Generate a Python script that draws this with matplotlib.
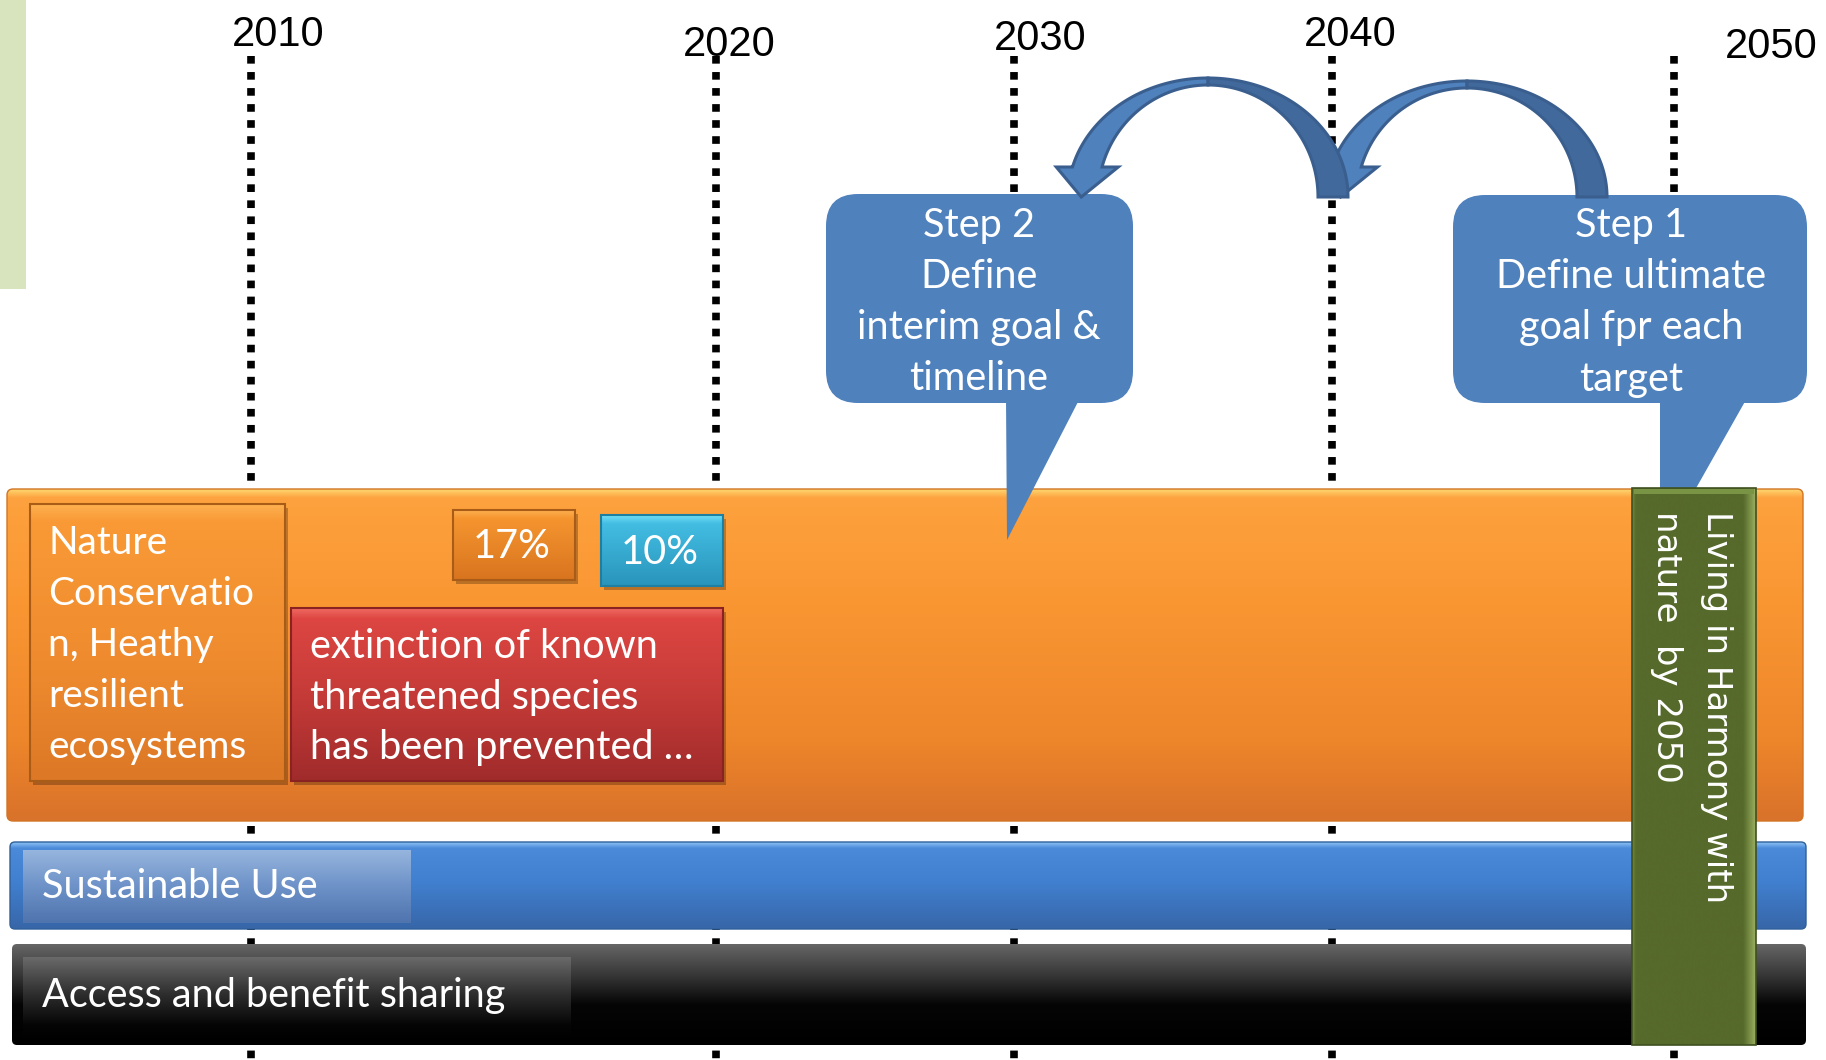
import numpy as np
import matplotlib.pyplot as plt
from matplotlib.patches import FancyBboxPatch, Polygon, Rectangle
from matplotlib.colors import LinearSegmentedColormap

# CANVAS (pixel coordinates, y grows downward)
W, H = 1826, 1060

# DATA
years = [2010, 2020, 2030, 2040, 2050]
step2_lines = ["Step 2", "Define", "interim goal &", "timeline"]
step1_lines = ["Step 1", "Define ultimate", "goal fpr each", "target"]
nature_lines = ["Nature", "Conservatio", "n, Heathy", "resilient", "ecosystems"]
species_lines = ["extinction of known", "threatened species", "has been prevented \u2026"]
pct_labels = ["17%", "10%"]
band_labels = ["Sustainable Use", "Access and benefit sharing"]
vision_lines = ["Living in Harmony with", "nature  by 2050"]

# LAYOUT
year_line_x = [251, 716, 1014, 1332, 1674]
year_label_xy = [(278, 35), (729, 45), (1040, 39), (1350, 35), (1771, 47)]
BODY = "Lato"

fig = plt.figure(figsize=(W / 100, H / 100), dpi=100)
ax = fig.add_axes([0, 0, 1, 1])


def grad_box(x0, y0, x1, y1, stops, rad=0, ec="none", lw=1.0, z=2, shadow=False, horiz=False):
    if shadow:
        ax.add_patch(Rectangle((x0 + 3, y0 + 4), x1 - x0, y1 - y0, fc="black",
                               alpha=0.25, ec="none", zorder=z - 0.05))
    style = f"round,pad=0,rounding_size={rad}" if rad else "square,pad=0"
    box = FancyBboxPatch((x0, y0), x1 - x0, y1 - y0, boxstyle=style,
                         fc="none", ec=ec, lw=lw, zorder=z + 0.01)
    ax.add_patch(box)
    cmap = LinearSegmentedColormap.from_list("g", stops)
    grad = np.linspace(0, 1, 256)
    grad = grad.reshape(1, -1) if horiz else grad.reshape(-1, 1)
    im = ax.imshow(grad, cmap=cmap, extent=(x0, x1, y1, y0), aspect="auto",
                   interpolation="bilinear", zorder=z)
    im.set_clip_path(box)
    return box


def curved_arrow(cx, yb, ry_out, ry_in, z, rx_out=140, rx_in=110, head_h=30, head_w=62):
    # two half-ellipses sharing a base: thick at the ends, thin at the top
    def arc(rx, ry, t0, t1):
        t = np.linspace(t0, t1, 200)
        return np.column_stack([cx + rx * np.cos(t), yb - ry * np.sin(t)])

    to_end = np.pi - np.arcsin(head_h / ry_out)
    ti_end = np.pi - np.arcsin(head_h / ry_in)
    back = np.vstack([arc(rx_out, ry_out, 0, np.pi / 2), arc(rx_in, ry_in, np.pi / 2, 0)])
    o_front = arc(rx_out, ry_out, np.pi / 2, to_end)
    i_front = arc(rx_in, ry_in, ti_end, np.pi / 2)
    mx = (o_front[-1, 0] + i_front[0, 0]) / 2
    yh = yb - head_h
    head = [(mx - head_w / 2, yh), (mx - 6, yb), (mx + head_w / 2, yh)]
    front = np.vstack([o_front, head, i_front])
    ax.add_patch(Polygon(front, closed=True, fc="#4f81bd", ec="#3a5f8f", lw=2.2,
                         joinstyle="miter", zorder=z))
    ax.add_patch(Polygon(back, closed=True, fc="#41699c", ec="#3a5f8f", lw=2.2,
                         joinstyle="miter", zorder=z + 0.01))


# light green strip, top-left
ax.add_patch(Rectangle((0, 0), 26, 289, fc="#d7e4bd", ec="none", zorder=0))

# dotted year lines and labels
ax.vlines(year_line_x, 56, H, colors="black", linestyles=(0, (1.0, 1.1)), lw=5.5, zorder=1)
for yr, (lx, ly) in zip(years, year_label_xy):
    ax.text(lx, ly, str(yr), ha="center", va="center", fontsize=30,
            family="Liberation Sans", zorder=8)

# main bands
grad_box(7, 489, 1803, 821, [(0, "#ffd46e"), (0.025, "#fda23e"), (0.35, "#f99632"),
                             (0.75, "#ee862b"), (1, "#d9722a")], rad=6, ec="#d27424", z=2)
grad_box(10, 842, 1806, 929, [(0, "#8cc2f5"), (0.07, "#4a8ad8"), (0.45, "#4180d0"),
                              (1, "#3766a8")], rad=5, ec="#2f5f9a", z=2)
grad_box(12, 944, 1806, 1045, [(0, "#666666"), (0.3, "#383838"), (0.6, "#050505"),
                               (1, "#000000")], rad=5, ec="none", z=2)

# inner label boxes of the lower bands
grad_box(23, 850, 411, 923, [(0, "#97b6de"), (0.5, "#6d92c8"), (1, "#4f74ae")], z=3)
grad_box(23, 957, 571, 1042, [(0, "#6a6a6a"), (0.45, "#2c2c2c"), (0.8, "#050505"),
                              (1, "#000000")], z=3)
ax.text(42, 887, band_labels[0], ha="left", va="center", color="white",
        fontsize=28.5, family=BODY, zorder=8)
ax.text(42, 995, band_labels[1], ha="left", va="center", color="white",
        fontsize=28.5, family=BODY, zorder=8)

# boxes inside the orange band
grad_box(30, 504, 285, 781, [(0, "#fdb050"), (0.06, "#f99a36"), (0.6, "#ee8a2e"),
                             (1, "#dc7826")], ec="#a85c18", lw=1.5, z=3, shadow=True)
grad_box(453, 510, 575, 580, [(0, "#fdb050"), (0.12, "#f5952f"), (1, "#d8741f")],
         ec="#a85c18", lw=1.5, z=3, shadow=True)
grad_box(601, 515, 723, 586, [(0, "#72def5"), (0.12, "#43bde2"), (1, "#2994bb")],
         ec="#1f7fa0", lw=1.5, z=3, shadow=True)
grad_box(291, 608, 723, 781, [(0, "#f06a62"), (0.06, "#dd4642"), (0.5, "#c53b38"),
                              (1, "#a02b2b")], ec="#8a2222", lw=1.5, z=3, shadow=True)

for i, line in enumerate(nature_lines):
    ax.text(48, 543 + i * 51, line, ha="left", va="center", color="white",
            fontsize=28, family=BODY, zorder=8)
for i, line in enumerate(species_lines):
    ax.text(310, 647 + i * 50, line, ha="left", va="center", color="white",
            fontsize=28.5, family=BODY, zorder=8)
ax.text(512, 547, pct_labels[0], ha="center", va="center", color="white",
        fontsize=28.5, family=BODY, zorder=8)
ax.text(660, 552, pct_labels[1], ha="center", va="center", color="white",
        fontsize=28.5, family=BODY, zorder=8)

# callouts
BLUE = "#4f81bd"
ax.add_patch(FancyBboxPatch((826, 194), 307, 209, boxstyle="round,pad=0,rounding_size=32",
                            fc=BLUE, ec="none", zorder=4))
ax.add_patch(Polygon([(1006, 398), (1080, 398), (1007, 540)], fc=BLUE, ec="none", zorder=4))
ax.add_patch(FancyBboxPatch((1453, 195), 354, 208, boxstyle="round,pad=0,rounding_size=32",
                            fc=BLUE, ec="none", zorder=4))
ax.add_patch(Polygon([(1660, 398), (1747, 398), (1660, 552)], fc=BLUE, ec="none", zorder=4))
for i, line in enumerate(step2_lines):
    ax.text(979, 226 + i * 51, line, ha="center", va="center", color="white",
            fontsize=28.5, family=BODY, zorder=8)
for i, line in enumerate(step1_lines):
    ax.text(1631, 226 + i * 51, line, ha="center", va="center", color="white",
            fontsize=28.5, family=BODY, zorder=8)

# vertical green vision box with bevel edges
grad_box(1632, 488, 1756, 1045, [(0, "#6f8a3a"), (0.03, "#566a2b"), (0.9, "#566a2b"),
                                 (1, "#9ab060")], ec="#3f5020", lw=1.2, z=5, horiz=True)
ax.add_patch(Rectangle((1634, 489), 120, 5, fc="#7a9446", ec="none", zorder=5.1))
ax.text(1716, 511, vision_lines[0], rotation=-90, ha="center", va="top", color="white",
        fontsize=24.5, family="DejaVu Sans", zorder=8)
ax.text(1667, 511, vision_lines[1], rotation=-90, ha="center", va="top", color="white",
        fontsize=24.5, family="DejaVu Sans", zorder=8)

# curved arrows: step 1 -> 2040 -> step 2
curved_arrow(1467, 197, 116, 109, z=6)
curved_arrow(1208, 197, 119, 112, z=6.5)

ax.set_xlim(0, W)
ax.set_ylim(H, 0)
ax.axis("off")
fig.savefig("out.png", dpi=100)
